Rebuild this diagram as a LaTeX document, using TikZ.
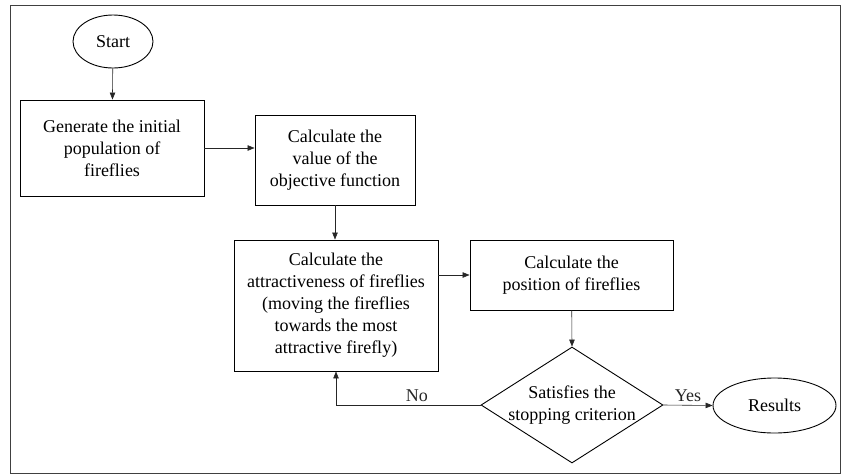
\documentclass[tikz,border=0pt]{standalone}
\usepackage{fontspec}
\setmainfont{Liberation Serif}
\usepackage{tikz}
\usetikzlibrary{arrows.meta, shapes.geometric, calc}

\begin{document}
\begin{tikzpicture}[x=1pt, y=-1pt,
    every node/.style={font=\fontsize{18}{22}\selectfont, align=center},
    process/.style={draw, line width=0.9pt, inner sep=0pt},
    terminal/.style={draw, ellipse, line width=0.9pt, inner sep=0pt},
    decision/.style={draw, diamond, line width=0.9pt, inner sep=0pt, minimum width=182pt, minimum height=116pt},
    flow/.style={-{Triangle[length=7pt,width=5.5pt]}, line width=0.6pt, black!85}]
    \useasboundingbox (0,0) rectangle (841,475);
    \draw[black!75, line width=1pt] (10,5) rectangle (840,473);
    % nodes
    \node[terminal, minimum width=80pt, minimum height=53pt] (start) at (113,41.5) {Start};
    \node[process, minimum width=184pt, minimum height=96pt] (init) at (112,148) {Generate the initial\\population of\\fireflies};
    \node[process, minimum width=160pt, minimum height=90pt] (objective) at (335,160) {Calculate the\\value of the\\objective function};
    \node[process, minimum width=204pt, minimum height=131pt] (attract) at (336,305.5) {Calculate the\\attractiveness of fireflies\\(moving the fireflies\\towards the most\\attractive firefly)};
    \node[process, minimum width=203pt, minimum height=70pt] (position) at (571.5,275) {Calculate the\\position of fireflies};
    \node[decision, label={[align=center]center:Satisfies the\\stopping criterion}] (check) at (572,405) {};
    \node[terminal, minimum width=123pt, minimum height=55pt] (results) at (774.5,405.5) {Results};
    % connectors
    \draw[flow] (start) -- (init);
    \draw[flow] (init) -- (init -| objective.west);
    \draw[flow] (objective.south) -- (objective.south |- attract.north);
    \draw[flow] (attract.east |- position.west) -- (position.west);
    \draw[flow] (position) -- (check.north);
    \draw[flow] (check.east) -- node[above, inner sep=3pt] {Yes} (results.west);
    \draw[flow] (check.west) -| node[pos=0.22, above, inner sep=3pt] {No} (attract.south);
\end{tikzpicture}
\end{document}
